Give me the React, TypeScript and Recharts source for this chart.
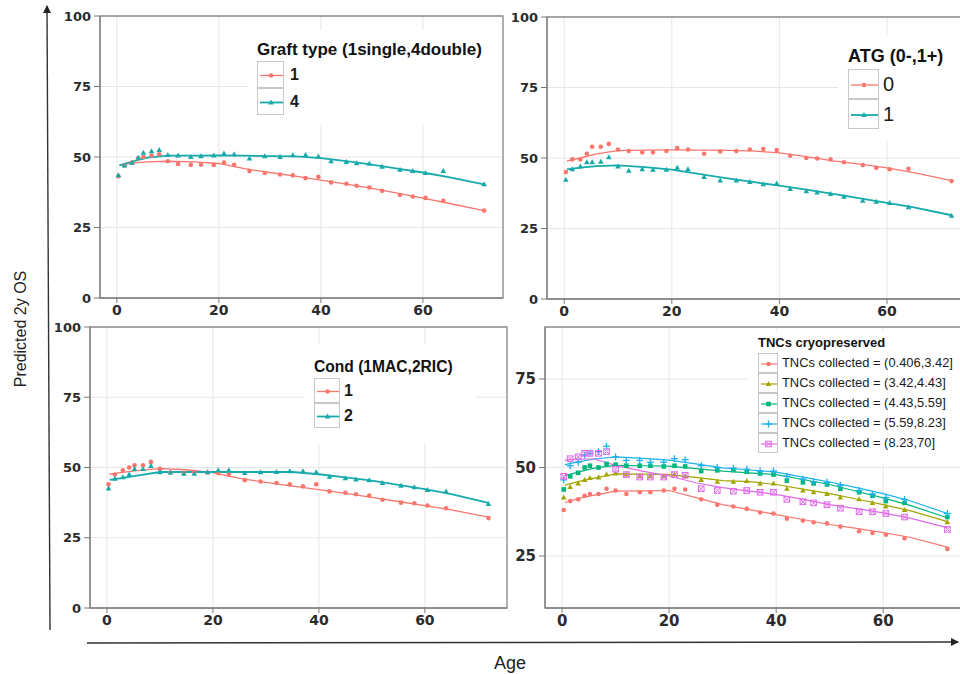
import React from 'react';
import { ComposedChart, Line, Scatter, XAxis, YAxis, CartesianGrid, ReferenceArea } from 'recharts';

// ages of the binned points and of the fitted curve
const AGES = [0.3, 1.5, 3, 4.2, 5.2, 6.8, 8.3, 10, 12, 14.5, 16.5, 19, 21, 23, 26, 29, 32, 34.5, 37, 39.5, 42, 45, 47, 49.5, 52, 55.5, 58, 60.5, 64, 72];
const FIT_AGES = [0.5, 3, 6, 10, 15, 20, 25, 30, 35, 40, 45, 50, 55, 60, 65, 72];
const X_TICKS = [0, 20, 40, 60];
const Y_TICKS = [0, 25, 50, 75, 100];
const Y_TICKS_TNC = [25, 50, 75];

// Graft type
const GRAFT1_PTS = [43.2, 47, 48, 49.5, 50, 50.5, 51, 48.5, 47.5, 47.2, 47.3, 47.2, 48, 47.2, 45, 44.3, 43.8, 43.5, 42.5, 43, 41, 40.5, 39.8, 39.2, 38, 36.5, 36, 35.5, 34.5, 31];
const GRAFT1_FIT = [47.0, 47.8, 48.3, 48.5, 48.3, 47.7, 45.9, 44.5, 43.2, 41.8, 40.4, 38.9, 37.2, 35.4, 33.6, 31.0];
const GRAFT4_PTS = [43.5, 47, 48, 49.7, 51.5, 52, 52.5, 50.7, 50.5, 50, 50.3, 50.5, 51.2, 51, 49.5, 50.3, 50, 50.6, 50.7, 50.2, 48.5, 48.2, 47.8, 47.6, 46.5, 45.5, 45, 44.3, 45, 40.3];
const GRAFT4_FIT = [47.0, 48.4, 49.8, 50.5, 50.5, 50.6, 50.5, 50.3, 50.2, 49.6, 48.5, 47.3, 45.9, 44.5, 42.9, 40.3];

// ATG
const ATG0_PTS = [45, 49.5, 49.5, 51.5, 54, 54, 55, 53, 52.5, 52, 52, 52.5, 53.5, 53, 51.5, 52.3, 52.5, 53, 53.2, 52.8, 50.8, 50, 49.8, 49.5, 48.5, 47.5, 46.5, 46, 46.2, 41.8];
const ATG0_FIT = [49.0, 50.0, 51.5, 52.6, 52.8, 52.9, 52.8, 52.7, 52.5, 51.8, 50.5, 49.0, 47.8, 46.5, 44.8, 42.0];
const ATG1_PTS = [42.3, 46, 47, 48.5, 48.5, 48.7, 50.3, 47, 45.5, 46, 45.8, 45.8, 46.5, 46, 43.3, 42, 42, 41.5, 40.7, 41, 39, 38.2, 37.8, 37.2, 36.3, 34.8, 34.5, 34, 32.5, 29.5];
const ATG1_FIT = [46.0, 46.6, 47.1, 47.4, 46.8, 45.9, 44.4, 42.9, 41.5, 40.2, 38.8, 37.3, 35.7, 34.1, 32.5, 29.7];

// Conditioning
const COND1_PTS = [44, 47.5, 49, 50, 50.8, 50.8, 52, 49.5, 48.2, 48, 48.3, 48.2, 48, 47.5, 45.5, 45, 44.5, 44, 43.3, 44, 41.5, 41, 40.5, 40, 38.5, 37.5, 37.3, 36.5, 35.5, 32];
const COND1_FIT = [47.6, 48.3, 49.0, 49.6, 49.2, 48.2, 46.1, 44.7, 43.4, 42.1, 40.8, 39.4, 37.9, 36.4, 34.9, 32.3];
const COND2_PTS = [42.5, 46, 46.5, 47.5, 49.5, 49.5, 50.5, 48.3, 48.2, 47.8, 47.8, 48.3, 49, 49, 48, 48.3, 48.4, 48.7, 48.7, 48.3, 46.7, 46.2, 45.7, 45.5, 44.5, 43.5, 43, 42, 41.5, 37];
const COND2_FIT = [45.6, 46.3, 47.2, 48.4, 48.4, 48.4, 48.4, 48.4, 48.4, 47.6, 46.5, 45.3, 43.8, 42.3, 40.5, 37.4];

// TNCs collected (quintiles)
const TNC1_PTS = [38, 40.5, 41, 42, 42.5, 42.5, 44, 43.5, 42.5, 43, 43, 43.5, 44, 43.8, 41, 39.5, 39, 38.3, 37.3, 37, 35.5, 35, 34.5, 34.2, 33.3, 32, 31.5, 31, 30, 27];
const TNC1_FIT = [40.1, 41.2, 42.2, 43.3, 43.4, 43.5, 41.5, 39.5, 38.1, 36.7, 35.3, 33.9, 32.8, 31.6, 30.3, 27.5];
const TNC2_PTS = [41.5, 44.5, 45.5, 46.5, 47, 47.2, 48, 48.3, 48, 47.5, 47.5, 47.5, 48, 47.5, 46.5, 46, 46, 46.2, 45.5, 45.5, 44, 43.5, 43, 42.5, 41.5, 41, 40, 39, 38, 34.5];
const TNC2_FIT = [45.0, 46.0, 47.0, 48.2, 48.1, 48.0, 47.2, 46.3, 46.0, 45.2, 43.9, 42.6, 41.1, 39.5, 37.8, 34.7];
const TNC3_PTS = [43.8, 47.5, 48.5, 50, 50.5, 50, 51, 50.8, 50.5, 50.5, 50.5, 50.3, 50.5, 50.3, 49, 49.2, 49.3, 48.8, 48.3, 48, 46.3, 45.8, 45.5, 45.2, 44, 43, 42, 40.5, 40, 36];
const TNC3_FIT = [47.7, 48.7, 49.8, 50.6, 50.5, 50.4, 49.7, 49.0, 48.5, 48.0, 46.6, 45.2, 43.3, 41.4, 39.3, 35.8];
const TNC4_PTS = [46.5, 50.5, 51.5, 53.5, 54, 54.5, 56, 53, 52, 52, 51.5, 51.5, 52.5, 52.2, 50.5, 50, 49.8, 49.5, 49, 49, 47.5, 46.7, 46, 45.8, 45, 43.5, 42.5, 41.5, 41, 37];
const TNC4_FIT = [50.8, 51.6, 52.4, 53.0, 52.6, 52.1, 51.0, 49.9, 49.3, 48.7, 47.3, 45.9, 44.3, 42.6, 40.6, 37.0];
const TNC5_PTS = [47.5, 52.5, 53, 54, 54, 54, 54.5, 49.5, 48, 47.3, 47.3, 47.3, 48, 47.8, 44, 43.5, 43.3, 43.5, 43, 43, 41, 40.3, 40, 39.5, 38.5, 37.5, 37.5, 37, 36, 32.5];
const TNC5_FIT = [52.1, 52.4, 52.4, 50.6, 49.0, 47.6, 45.7, 44.3, 43.3, 42.4, 41.0, 39.5, 38.4, 37.2, 35.7, 33.0];

const RED = '#F8766D';
const TEAL = '#17AAAB';
const OLIVE = '#A3A500';
const GREEN = '#00B77A';
const BLUE = '#1AB0EE';
const PINK = '#E06BEA';

type Kind = 'circle' | 'triangle' | 'square' | 'plus' | 'boxx';
type Series = { name: string; color: string; kind: Kind; pts: number[]; fit: number[]; w: number };

const GRAFT: Series[] = [
  { name: '1', color: RED, kind: 'circle', pts: GRAFT1_PTS, fit: GRAFT1_FIT, w: 1.3 },
  { name: '4', color: TEAL, kind: 'triangle', pts: GRAFT4_PTS, fit: GRAFT4_FIT, w: 1.8 },
];
const ATG: Series[] = [
  { name: '0', color: RED, kind: 'circle', pts: ATG0_PTS, fit: ATG0_FIT, w: 1.3 },
  { name: '1', color: TEAL, kind: 'triangle', pts: ATG1_PTS, fit: ATG1_FIT, w: 1.8 },
];
const COND: Series[] = [
  { name: '1', color: RED, kind: 'circle', pts: COND1_PTS, fit: COND1_FIT, w: 1.3 },
  { name: '2', color: TEAL, kind: 'triangle', pts: COND2_PTS, fit: COND2_FIT, w: 1.8 },
];
const TNC: Series[] = [
  { name: 'TNCs collected = (0.406,3.42]', color: RED, kind: 'circle', pts: TNC1_PTS, fit: TNC1_FIT, w: 1.2 },
  { name: 'TNCs collected = (3.42,4.43]', color: OLIVE, kind: 'triangle', pts: TNC2_PTS, fit: TNC2_FIT, w: 1.2 },
  { name: 'TNCs collected = (4.43,5.59]', color: GREEN, kind: 'square', pts: TNC3_PTS, fit: TNC3_FIT, w: 1.2 },
  { name: 'TNCs collected = (5.59,8.23]', color: BLUE, kind: 'plus', pts: TNC4_PTS, fit: TNC4_FIT, w: 1.2 },
  { name: 'TNCs collected = (8.23,70]', color: PINK, kind: 'boxx', pts: TNC5_PTS, fit: TNC5_FIT, w: 1.2 },
];

const toPoints = (vals: number[]) => vals.map((v, i) => ({ age: AGES[i], v }));
const toFit = (vals: number[]) => vals.map((v, i) => ({ age: FIT_AGES[i], v }));

function Marker({ kind, x, y, color }: { kind: Kind; x: number; y: number; color: string }) {
  if (x == null || y == null) return null;
  switch (kind) {
    case 'triangle':
      return <polygon points={`${x},${y - 3} ${x - 2.8},${y + 2} ${x + 2.8},${y + 2}`} fill={color} />;
    case 'square':
      return <rect x={x - 2.3} y={y - 2.3} width={4.6} height={4.6} fill={color} />;
    case 'plus':
      return (
        <g stroke={color} strokeWidth={1.3}>
          <line x1={x - 3.5} y1={y} x2={x + 3.5} y2={y} />
          <line x1={x} y1={y - 3.5} x2={x} y2={y + 3.5} />
        </g>
      );
    case 'boxx':
      return (
        <g stroke={color} strokeWidth={1} fill="none">
          <rect x={x - 2.8} y={y - 2.8} width={5.6} height={5.6} />
          <line x1={x - 2.8} y1={y - 2.8} x2={x + 2.8} y2={y + 2.8} />
          <line x1={x - 2.8} y1={y + 2.8} x2={x + 2.8} y2={y - 2.8} />
        </g>
      );
    default:
      return <circle cx={x} cy={y} r={2.3} fill={color} />;
  }
}

type PanelProps = {
  left: number; top: number; width: number; height: number;
  mt: number; mr: number; yw: number;
  xDomain: [number, number]; yDomain: [number, number]; yTicks: number[];
  series: Series[]; xFont: number; yFont: number;
};

function Panel(p: PanelProps) {
  const tickFont = { fill: '#2b2b2b', fontWeight: 700, fontFamily: 'DejaVu Sans' };
  return (
    <div style={{ position: 'absolute', left: p.left, top: p.top }}>
      <ComposedChart width={p.width} height={p.height} margin={{ top: p.mt, right: p.mr, bottom: 0, left: 0 }}>
        <CartesianGrid stroke="#e6e6e6" strokeWidth={1} />
        <XAxis
          type="number"
          dataKey="age"
          domain={p.xDomain}
          ticks={X_TICKS}
          allowDataOverflow
          height={32}
          tickSize={5}
          tickMargin={2}
          stroke="#7a7a7a"
          tick={{ ...tickFont, fontSize: p.xFont }}
        />
        <YAxis
          type="number"
          domain={p.yDomain}
          ticks={p.yTicks}
          allowDataOverflow
          width={p.yw}
          tickSize={6}
          tickMargin={3}
          stroke="#7a7a7a"
          tick={{ ...tickFont, fontSize: p.yFont }}
        />
        <ReferenceArea
          x1={p.xDomain[0]}
          x2={p.xDomain[1]}
          y1={p.yDomain[0]}
          y2={p.yDomain[1]}
          fill="none"
          stroke="#8c8c8c"
          strokeWidth={1.3}
          ifOverflow="visible"
        />
        {p.series.map((s) => (
          <Line
            key={'fit' + s.name}
            data={toFit(s.fit)}
            dataKey="v"
            type="linear"
            stroke={s.color}
            strokeWidth={s.w}
            dot={false}
            activeDot={false}
            isAnimationActive={false}
          />
        ))}
        {p.series.map((s) => (
          <Scatter
            key={'pts' + s.name}
            data={toPoints(s.pts)}
            dataKey="v"
            fill={s.color}
            isAnimationActive={false}
            shape={(sp: any) => <Marker kind={s.kind} x={sp.cx} y={sp.cy} color={s.color} />}
          />
        ))}
      </ComposedChart>
    </div>
  );
}

type LegendProps = {
  box: { l: number; t: number; w: number; h: number };
  title: string; titleX: number; titleY: number; titleSize: number;
  keyX: number; keyY: number; keyW: number; keyH: number;
  labelX: number; labelSize: number; labelWeight: number;
  series: Series[];
};

function GGLegend(p: LegendProps) {
  return (
    <div style={{ position: 'absolute', left: p.box.l, top: p.box.t, width: p.box.w, height: p.box.h, background: '#fff' }}>
      <div
        style={{
          position: 'absolute',
          left: p.titleX - p.box.l,
          top: p.titleY - p.box.t - p.titleSize * 0.6,
          fontFamily: 'Liberation Sans',
          fontWeight: 700,
          fontSize: p.titleSize,
          color: '#111',
          whiteSpace: 'nowrap',
          lineHeight: 1.2 + '',
        }}
      >
        {p.title}
      </div>
      {p.series.map((s, i) => {
        const top = p.keyY - p.box.t + i * p.keyH;
        return (
          <React.Fragment key={s.name}>
            <svg
              width={p.keyW}
              height={p.keyH}
              style={{ position: 'absolute', left: p.keyX - p.box.l, top, border: '1px solid #c8c8c8', boxSizing: 'border-box', background: '#fff' }}
            >
              <line x1={2} y1={p.keyH / 2} x2={p.keyW - 2} y2={p.keyH / 2} stroke={s.color} strokeWidth={s.w} />
              <Marker kind={s.kind} x={p.keyW / 2 - 0.5} y={p.keyH / 2} color={s.color} />
            </svg>
            <div
              style={{
                position: 'absolute',
                left: p.labelX - p.box.l,
                top: top + p.keyH / 2 - p.labelSize * 0.6,
                fontFamily: 'Liberation Sans',
                fontWeight: p.labelWeight,
                fontSize: p.labelSize,
                lineHeight: 1.2 + '',
                color: '#1a1a1a',
                whiteSpace: 'nowrap',
              }}
            >
              {s.name}
            </div>
          </React.Fragment>
        );
      })}
    </div>
  );
}

export default function App() {
  return (
    <div style={{ position: 'absolute', left: 0, top: 0, width: 960, height: 674, overflow: 'hidden', background: '#fff' }}>
      <svg width={960} height={674} style={{ position: 'absolute', left: 0, top: 0 }}>
        <defs>
          <marker id="arr" markerWidth="8" markerHeight="8" refX="7" refY="4" orient="auto" markerUnits="userSpaceOnUse">
            <path d="M0,0 L8,4 L0,8 z" fill="#222" />
          </marker>
        </defs>
        <line x1={50} y1={630} x2={47} y2={6} stroke="#333" strokeWidth={1.4} markerEnd="url(#arr)" />
        <line x1={87} y1={643} x2={958} y2={642} stroke="#333" strokeWidth={1.4} markerEnd="url(#arr)" />
        <text
          x={20}
          y={329}
          transform="rotate(-90 20 329)"
          textAnchor="middle"
          dominantBaseline="central"
          fontFamily="Liberation Sans"
          fontSize={16}
          fill="#222"
        >
          Predicted 2y OS
        </text>
        <text x={510} y={663} textAnchor="middle" dominantBaseline="central" fontFamily="Liberation Sans" fontSize={18} fill="#222">
          Age
        </text>
      </svg>

      <Panel left={30} top={0} width={480} height={330} mt={16} mr={7} yw={70}
        xDomain={[-3.3, 75.7]} yDomain={[0, 100]} yTicks={Y_TICKS} series={GRAFT} xFont={14} yFont={13} />
      <Panel left={480} top={0} width={500} height={331} mt={17} mr={8} yw={67}
        xDomain={[-3.2, 75.8]} yDomain={[0, 100]} yTicks={Y_TICKS} series={ATG} xFont={14} yFont={13} />
      <Panel left={20} top={310} width={495} height={330} mt={17} mr={8} yw={70}
        xDomain={[-3.2, 75.5]} yDomain={[0, 100]} yTicks={Y_TICKS} series={COND} xFont={14} yFont={13} />
      <Panel left={480} top={310} width={500} height={330} mt={17} mr={8} yw={65}
        xDomain={[-3.2, 76.6]} yDomain={[10.3, 89.7]} yTicks={Y_TICKS_TNC} series={TNC} xFont={15} yFont={15} />

      <GGLegend box={{ l: 248, t: 30, w: 254, h: 95 }} title="Graft type (1single,4double)" titleX={257} titleY={50} titleSize={17}
        keyX={257} keyY={61} keyW={27} keyH={27} labelX={290} labelSize={16} labelWeight={700} series={GRAFT} />
      <GGLegend box={{ l: 838, t: 35, w: 130, h: 105 }} title="ATG (0-,1+)" titleX={848} titleY={57} titleSize={18}
        keyX={848} keyY={69} keyW={31} keyH={30} labelX={883} labelSize={20} labelWeight={400} series={ATG} />
      <GGLegend box={{ l: 305, t: 345, w: 172, h: 98 }} title="Cond (1MAC,2RIC)" titleX={314} titleY={367} titleSize={15.6}
        keyX={314} keyY={378} keyW={26} keyH={25} labelX={344} labelSize={16} labelWeight={700} series={COND} />
      <GGLegend box={{ l: 748, t: 331, w: 212, h: 132 }} title="TNCs cryopreserved" titleX={758} titleY={343} titleSize={13}
        keyX={758} keyY={353} keyW={20} keyH={20} labelX={782} labelSize={12.9} labelWeight={400} series={TNC} />
    </div>
  );
}
